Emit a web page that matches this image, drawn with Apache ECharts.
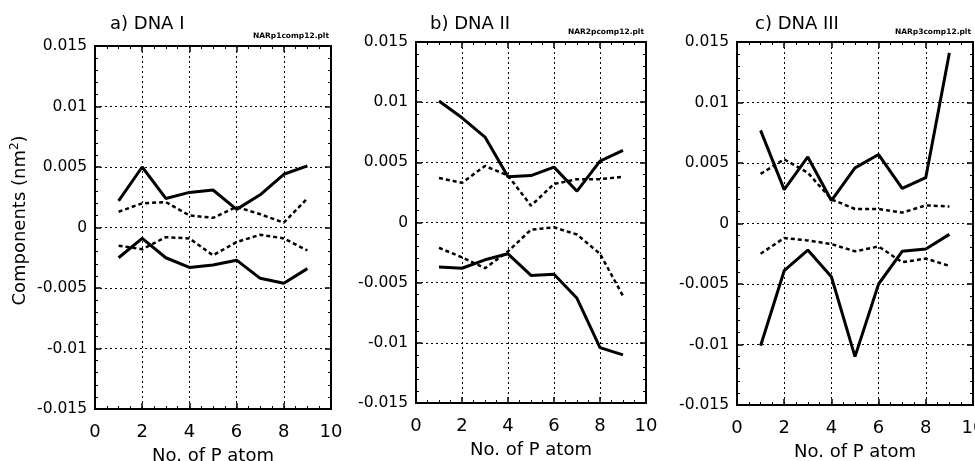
<!DOCTYPE html>
<html>
<head>
<meta charset="utf-8">
<script src="https://cdn.jsdelivr.net/npm/echarts@6/dist/echarts.min.js"></script>
<style>html,body{margin:0;padding:0;background:#fff}#c{width:975px;height:461px}</style>
</head>
<body>
<div id="c"></div>
<script>
// ---- data ----
const pAtoms = [1, 2, 3, 4, 5, 6, 7, 8, 9];
const panelTitles = ['a) DNA I', 'b) DNA II', 'c) DNA III'];
const fileLabels = ['NARp1comp12.plt', 'NAR2pcomp12.plt', 'NARp3comp12.plt'];
const xTickLabels = ['0', '2', '4', '6', '8', '10'];
const yTickLabels = ['-0.015', '-0.01', '-0.005', '0', '0.005', '0.01', '0.015'];
const xAxisName = 'No. of P atom';

// DNA I
const dna1SolidUpper = [0.0022, 0.0050, 0.0024, 0.0029, 0.0031, 0.0015, 0.0027, 0.0044, 0.0051];
const dna1DashUpper  = [0.0013, 0.0020, 0.0021, 0.0010, 0.0008, 0.0017, 0.0011, 0.0004, 0.0024];
const dna1SolidLower = [-0.0025, -0.0009, -0.0025, -0.0033, -0.0031, -0.0027, -0.0042, -0.0046, -0.0034];
const dna1DashLower  = [-0.0015, -0.0018, -0.0008, -0.0009, -0.0023, -0.0012, -0.0006, -0.0009, -0.0019];
// DNA II
const dna2SolidUpper = [0.0101, 0.0087, 0.0071, 0.0038, 0.0039, 0.0046, 0.0026, 0.0051, 0.0060];
const dna2DashUpper  = [0.0037, 0.0033, 0.0047, 0.0039, 0.0014, 0.0032, 0.0036, 0.0036, 0.0038];
const dna2SolidLower = [-0.0037, -0.0038, -0.0031, -0.0026, -0.0044, -0.0043, -0.0063, -0.0104, -0.0110];
const dna2DashLower  = [-0.0021, -0.0029, -0.0038, -0.0024, -0.0006, -0.0004, -0.0010, -0.0026, -0.0061];
// DNA III
const dna3SolidUpper = [0.0077, 0.0028, 0.0055, 0.0019, 0.0046, 0.0057, 0.0029, 0.0038, 0.0141];
const dna3DashUpper  = [0.0041, 0.0053, 0.0042, 0.0020, 0.0012, 0.0012, 0.0009, 0.0015, 0.0014];
const dna3SolidLower = [-0.0101, -0.0039, -0.0022, -0.0044, -0.0110, -0.0050, -0.0023, -0.0021, -0.0009];
const dna3DashLower  = [-0.0025, -0.0012, -0.0014, -0.0017, -0.0023, -0.0019, -0.0032, -0.0029, -0.0035];

const panels = [
  {solid: [dna1SolidUpper, dna1SolidLower], dash: [dna1DashUpper, dna1DashLower]},
  {solid: [dna2SolidUpper, dna2SolidLower], dash: [dna2DashUpper, dna2DashLower]},
  {solid: [dna3SolidUpper, dna3SolidLower], dash: [dna3DashUpper, dna3DashLower]}
];

// ---- layout ----
const gridBoxes = [
  {left: 95, top: 46, width: 236, height: 363},
  {left: 416, top: 42, width: 230, height: 361},
  {left: 737, top: 42, width: 236, height: 363}
];
const titleOffsets = [10, 9, 13];
const FONT = 'DejaVu Sans';

const chart = echarts.init(document.getElementById('c'), null, {renderer: 'canvas'});
const grids = [], xAxes = [], yAxes = [], series = [], titles = [];

function fmtY(v) {
  const r = Math.round(v * 1000) / 1000;
  const s = yTickLabels.find(t => Math.abs(parseFloat(t) - r) < 1e-9);
  return s !== undefined ? s : String(r);
}
function fmtX(v) {
  const s = xTickLabels.find(t => Math.abs(parseFloat(t) - v) < 1e-9);
  return s !== undefined ? s : '';
}

gridBoxes.forEach((g, i) => {
  grids.push(Object.assign({show: true, borderColor: '#000', borderWidth: 2, backgroundColor: 'transparent',
    containLabel: false, outerBoundsMode: 'none'}, g));
  const common = {
    type: 'value', gridIndex: i,
    axisLine: {show: true, onZero: false, lineStyle: {color: '#000', width: 2}},
    axisTick: {show: true, inside: true, length: 6, lineStyle: {color: '#000', width: 1.5}},
    minorTick: {show: true, length: 3, lineStyle: {color: '#000', width: 1}}
  };
  // bottom x
  xAxes.push(Object.assign({}, common, {
    position: 'bottom', min: 0, max: 10, interval: 2,
    minorTick: {show: true, splitNumber: 4, length: 3, lineStyle: {color: '#000', width: 1}},
    axisLabel: {show: true, margin: 14, color: '#000', fontFamily: FONT, fontSize: 18, formatter: fmtX},
    splitLine: {show: true, lineStyle: {color: '#000', width: 1, type: [2, 3]}},
    name: xAxisName, nameLocation: 'middle', nameGap: 38,
    nameTextStyle: {color: '#000', fontFamily: FONT, fontSize: 18}
  }));
  // top x (ticks only)
  xAxes.push(Object.assign({}, common, {
    position: 'top', min: 0, max: 10, interval: 2,
    minorTick: {show: true, splitNumber: 4, length: 3, lineStyle: {color: '#000', width: 1}},
    axisLabel: {show: false}, splitLine: {show: false}
  }));
  // left y
  const yl = Object.assign({}, common, {
    position: 'left', min: -0.015, max: 0.015, interval: 0.005,
    minorTick: {show: true, splitNumber: 5, length: 3, lineStyle: {color: '#000', width: 1}},
    axisLabel: {show: true, margin: 8, color: '#000', fontFamily: FONT, fontSize: 15.5, formatter: fmtY},
    splitLine: {show: true, lineStyle: {color: '#000', width: 1, type: [2, 3]}}
  });
  if (i === 0) {
    yl.name = 'Components (nm{sup|2})';
    yl.nameLocation = 'middle';
    yl.nameGap = 64;
    yl.nameTextStyle = {color: '#000', fontFamily: FONT, fontSize: 18, padding: [0, 0, 0, 14],
      rich: {sup: {fontSize: 12, verticalAlign: 'top', padding: [0, 0, 10, 0], fontFamily: FONT, color: '#000'}}};
  }
  yAxes.push(yl);
  // right y (ticks only)
  yAxes.push(Object.assign({}, common, {
    position: 'right', min: -0.015, max: 0.015, interval: 0.005,
    minorTick: {show: true, splitNumber: 5, length: 3, lineStyle: {color: '#000', width: 1}},
    axisLabel: {show: false}, splitLine: {show: false}
  }));

  const p = panels[i];
  p.solid.forEach(arr => series.push({
    type: 'line', xAxisIndex: i * 2, yAxisIndex: i * 2, symbol: 'none',
    lineStyle: {color: '#000', width: 3, type: 'solid'},
    data: pAtoms.map((x, k) => [x, arr[k]]), animation: false
  }));
  p.dash.forEach(arr => series.push({
    type: 'line', xAxisIndex: i * 2, yAxisIndex: i * 2, symbol: 'none',
    lineStyle: {color: '#000', width: 2.5, type: [4, 3]},
    data: pAtoms.map((x, k) => [x, arr[k]]), animation: false
  }));

  titles.push({text: panelTitles[i], left: g.left + titleOffsets[i], top: 10,
    textStyle: {color: '#000', fontFamily: FONT, fontSize: 18, fontWeight: 'normal'}});
  titles.push({text: fileLabels[i], right: 975 - (g.left + g.width) - 3, top: g.top - 19,
    textStyle: {color: '#000', fontFamily: FONT, fontSize: 7.5, fontWeight: 'bold'}});
});

chart.setOption({
  animation: false,
  title: titles,
  grid: grids,
  xAxis: xAxes,
  yAxis: yAxes,
  series: series
});
</script>
</body>
</html>
